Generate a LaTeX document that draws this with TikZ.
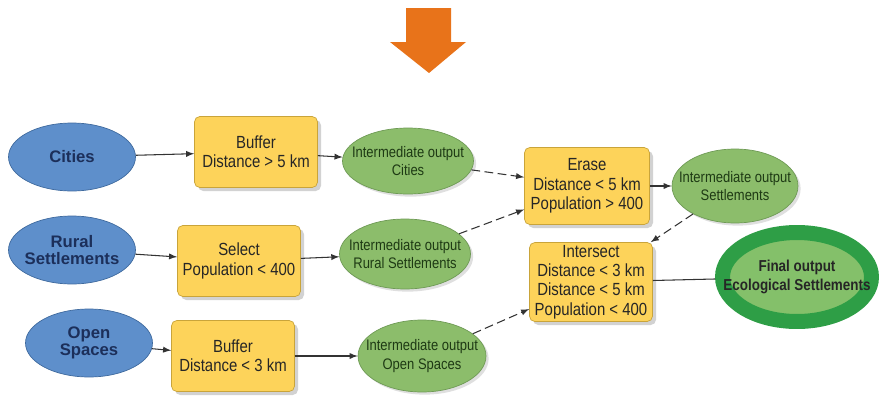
\documentclass[tikz,border=0pt]{standalone}
\usepackage{fontspec}
\setmainfont{Liberation Sans}
\newfontfamily\narrowfont{Liberation Sans}[FakeStretch=0.85]
\usetikzlibrary{shapes.geometric,shadows}
\definecolor{srcblue}{HTML}{5E8FCB}
\definecolor{srcline}{HTML}{3F6A9E}
\definecolor{srctext}{HTML}{1C2F5A}
\definecolor{toolyellow}{HTML}{FDD35A}
\definecolor{toolline}{HTML}{C9A43A}
\definecolor{midgreen}{HTML}{8CBD6B}
\definecolor{midline}{HTML}{6E9A55}
\definecolor{midtext}{HTML}{1E3A14}
\definecolor{finouter}{HTML}{2E9E46}
\definecolor{fininner}{HTML}{84C06A}
\definecolor{bigarrow}{HTML}{E8731A}
\begin{document}
\begin{tikzpicture}[x=0.02cm, y=-0.02cm, >=latex]
		\tikzset{src/.style={ellipse, draw=srcline, fill=srcblue, text=srctext, align=center, inner xsep=-12pt, inner ysep=-4pt, minimum width=2.54cm, minimum height=1.36cm, font=\bfseries\fontsize{9.5}{10}\selectfont}};
		\tikzset{tool/.style={rectangle, rounded corners=3pt, draw=toolline, fill=toolyellow, text=black!85, align=center, inner sep=0pt, minimum width=2.46cm, minimum height=1.42cm, font=\narrowfont\fontsize{10}{11}\selectfont, drop shadow={shadow xshift=2pt, shadow yshift=-2pt, fill=black!35}}};
		\tikzset{mid/.style={ellipse, draw=midline, fill=midgreen, text=midtext, align=center, inner xsep=-12pt, inner ysep=-4pt, minimum width=2.62cm, minimum height=1.32cm, font=\narrowfont\fontsize{8.7}{10.4}\selectfont, drop shadow={shadow xshift=1.5pt, shadow yshift=-1.5pt, fill=black!25}}};
		\tikzset{fin/.style={ellipse, draw=finouter, line width=0.3cm, fill=fininner, text=black!85, align=center, inner xsep=-25pt, inner ysep=-6pt, minimum width=2.98cm, minimum height=1.78cm, font=\narrowfont\bfseries\fontsize{9}{11}\selectfont}};
		\tikzset{link/.style={->, draw=black!80, line width=0.6pt}};
		\tikzset{dlink/.style={link, dash pattern=on 5pt off 2.5pt}};

		\useasboundingbox (0,0) rectangle (879,396);

		\fill[bigarrow] (406,8) -- (451,8) -- (451,42) -- (466,42) -- (429,73) -- (390,42) -- (406,42) -- cycle;

		\node[src] (ci) at (72,157) {Cities};
		\node[src] (ru) at (72,250) {Rural\\Settlements};
		\node[src] (op) at (89,343) {Open\\Spaces};

		\node[tool] (b1) at (256,152) {Buffer\\Distance > 5 km};
		\node[tool] (sel) at (239,261) {Select\\Population < 400};
		\node[tool] (b3) at (233,356) {Buffer\\Distance < 3 km};

		\node[mid] (ic) at (408,161) {Intermediate output\\Cities};
		\node[mid, minimum height=1.4cm] (ir) at (405,254) {Intermediate output\\Rural Settlements};
		\node[mid, minimum width=2.56cm, minimum height=1.44cm] (io) at (422,356) {Intermediate output\\Open Spaces};

		\node[tool, minimum width=2.5cm, minimum height=1.54cm] (er) at (587,186) {Erase\\Distance < 5 km\\Population > 400};
		\node[mid, minimum width=2.52cm, minimum height=1.48cm] (iset) at (735,186) {Intermediate output\\Settlements};
		\node[tool, minimum height=1.58cm] (is) at (591,282) {Intersect\\Distance < 3 km\\Distance < 5 km\\Population < 400};

		\node[fin] (fo) at (797,277) {Final output\\Ecological Settlements};

		\draw[link] (ci) -- (b1);
		\draw[link] (ru) -- (sel);
		\draw[link] (op) -- (b3);

		\draw[link] (b1) -- (ic);
		\draw[link] (sel) -- (ir);
		\draw[link] (b3) -- (io);

		\draw[dlink] (ic) -- (er);
		\draw[dlink] (ir) -- (er);
		\draw[link] (er) -- (iset);

		\draw[dlink] (iset) -- (is);
		\draw[dlink] (io) -- (is);
		\draw[draw=black!80, line width=0.6pt] (is) -- (fo);

	\end{tikzpicture}
\end{document}
